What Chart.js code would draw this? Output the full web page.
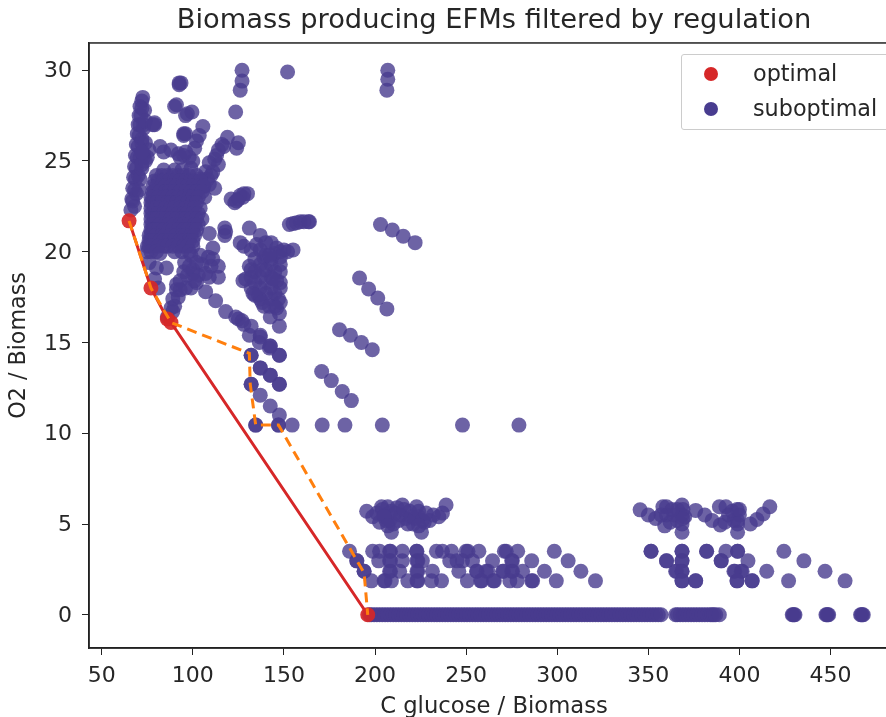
<!DOCTYPE html>
<html>
<head>
<meta charset="utf-8">
<title>Biomass producing EFMs</title>
<script src="https://cdn.jsdelivr.net/npm/chart.js@4"></script>
<style>
  html, body { margin: 0; padding: 0; background: #fff; overflow: hidden; }
  #wrap { position: relative; width: 886px; height: 717px; overflow: hidden; }
  #legend { position: absolute; left: 681px; top: 54px; width: 218px; height: 74px; border: 1px solid #ccc; border-radius: 3px; background: rgba(255,255,255,.8); font: 22.3px "DejaVu Sans"; line-height: 26px; color: #262626; }
  #legend div { position: absolute; left: 71px; white-space: nowrap; }
  #legend i { position: absolute; left: -49px; top: 7px; width: 14px; height: 14px; border-radius: 50%; }
</style>
</head>
<body>
<div id="wrap">
  <canvas id="chart" width="988" height="717"></canvas>
  <div id="legend">
    <div style="top:5px"><i style="background:#d62728"></i>optimal</div>
    <div style="top:40px"><i style="background:#483c8f"></i>suboptimal</div>
  </div>
</div>
<script>
// optimal EFMs, red frontier
const optimalPts = [[65,21.7],[77,18],[86,16.3],[88,16.1],[196,0]];
// orange dashed path
const regulatedPath = [[65,21.7],[77,18],[88,16.1],[131,14.4],[131.5,12.7],[134.5,10.45],[147,10.45],[194,2.3],[196,0]];

const leftStreak = [[66,22.3],[66.5,22.9],[67,23.5],[67.5,24.1],[68,24.7],[68.5,25.3],[69,25.9],[69.5,26.5],[70,27],[70.5,27.5],[71,28],[72,28.3],[72.5,28.5],
  [67,22.8],[68,23.4],[68.5,24],[69,24.6],[69.5,25.2],[70,25.8],[70.5,26.4],[71,27],[71.5,27.5],[72,27.9],[68,22.5],[69,23.2],[70,24.2],[71,25.2],[72,26.2],[73,27],[73.5,27.8],
  [71,24],[72,24.6],[73,25.2],[70.5,23.4],[72,26],[73,26.8],[74,27.2],[73,25.4],[74,26],[72,24.8],[76,25.6],[75,25.2],[74,25],[72,25.5],[78,27],[79,27.1]];
const topLeft = [[79,27],[82,25.8],[84,25.5],[88,25.6],[92,25.4],[93,25.2],[95,25.3],[92.5,29.3],[93.5,29.3],[92.5,29.2],[90,28],[91,28.1],[96,27.5],[97,27.6],[99.5,27.7],[95,26.5],[96,26.5],[95,26.4],
  [105.5,26.9],[103.5,26.4],[102,26.1],[101,25.7],[100,25],[99,24.6],[98,25.2],[96,25.5]];
const topMiddle = [[127,30],[127,29.4],[126,28.9],[123.5,27.7],[152,29.9],[207,30],[207,29.5],[206.5,28.9]];
const fan = [[119,26.3],[125,26],[124,25.7],[116,25.9],[114,25.6],[112,25.1],[114,24.8],[111,24.4],[107,24.4],[109,23.7],[112,23.5],[106.5,23],[117,25.8],[113,25.3],[110,24.2],[108,24],[106,23.6],[104,24],[109,24.9],
  [130,23.2],[127.5,23],[125,22.9],[121,22.9],[123,22.7],[126,23.1],[128,23.2],[124,22.8]];
const mainRows = [
  [24.5, [84,90,94]],
  [24.2, [80,83,86,89,92,95,98,102]],
  [23.9, [79,81,84,87,90,93,96,99,101,104]],
  [23.6, [78,80,83,85,88,91,94,97,100,103,106]],
  [23.3, [78,79,82,85,87,90,93,96,99,102,105]],
  [23, [77,78,81,84,86,89,92,95,98,100,103]],
  [22.7, [77,78,80,83,86,88,91,94,97,100,102]],
  [22.4, [77,79,80,82,85,88,90,93,96,99,101,104]],
  [22.1, [77,78,81,84,86,89,92,95,97,100,103]],
  [21.8, [77,79,80,83,85,88,91,94,96,99,102,105]],
  [21.5, [77,78,79,82,85,87,90,93,95,98,101,103]],
  [21.2, [77,78,79,81,84,87,89,92,95,97,100,102]],
  [20.9, [76,77,80,83,85,88,91,94,96,99,101]],
  [20.6, [76,77,79,82,84,87,90,93,95,98,100]],
  [20.3, [75,76,78,81,84,86,89,92,95,97,100]],
  [20, [75,77,80,90,94,98]]
];
const lowerBlock = [[82,19.9],[80,19.1],[85.5,19.1],[79,18.5],[81,18],[111,20.2],[108.5,19.7],[105,19.3],[95.5,19.4],[99,19.8],[103,18.7],[114,19.2],[114,18.6],[102,18.3],[99,18],
  [93,18.4],[91,17.9],[89,17.4],[88,16.9],[89,16.7],[86,16.4],[96,18],[100,19],[110,19.2],[76,19.4],[109,21],[117.5,21.3],[117.5,20.9],[118,21.1],[97,18.7],[95,18.9],[102,19.4],[104,19.8],
  [107,18.8],[109,18.6],[111,19.6],[100,18.8],[98,19.2],[92,17.5],[90,17],[93,17.9],[91,18.2],[101,18.4]];
const descending = [[107,17.8],[112.5,17.3],[118,16.7],[123.5,16.4],[127,16.2],[132,15.9],[131,15.4],[137,15.3],[136.5,15],[142,14.7],[132,14.3],[137,13.6],[142.5,13.2],[147.5,12.7],
  [132,12.7],[137,12.1],[142.5,11.5],[147.5,11],[147.5,14.3],[142.5,14.8],[137,15.4],[125,16.3],[128,16],[132,14.3],[132,12.7],[147.5,14.3],[147.5,12.7],[142.5,14.8],[142.5,13.2],[137,13.6]];
const rowTen = [[134.5,10.45],[134.5,10.45],[147,10.45],[147,10.45],[154.5,10.45],[171,10.45],[183.5,10.45],[204,10.45],[248,10.45],[279,10.45]];
const diagonals = [[180.5,15.7],[186.5,15.4],[192.5,15],[198.5,14.6],[170.7,13.4],[176,12.9],[182,12.3],[187,11.8],[191.5,18.55],[196.5,17.95],[201.5,17.45],[206.5,16.85],
  [203,21.5],[209.5,21.2],[215.5,20.85],[222,20.5],[153,21.5],[155,21.55],[157,21.6],[159,21.65],[161,21.65],[163.5,21.65],[164,21.65]];
const tallBlock = [[126,20.5],[131,21.3],[137,20.9],[143,20.5],[155,20.1],[152,20],[148,20],[132,20.1],[137,20.1],[143,19.6],[148,19.3],[132,19],[137,19.3],[143,19.3],[148,18.9],
  [127.5,18.4],[132,18.6],[137,18.6],[143,18.6],[148,18.3],[132,18],[137,18],[143,18],[148,18],[137,17.4],[143,17.4],[148,17.2],[142.5,16.4],[147.5,16.6],[147.5,15.9],[145,17],[139,17],[145,19.9],[140,19.8],
  [128,20.3],[135,20.4],[140,20.5],[146,20.2],[150,20.1],[134,19.6],[139,19.7],[148,19.7],[131,19.2],[134,18.9],[140,19],[145,18.9],[129,18.5],[134,18.3],[140,18.3],[146,18.4],[133,17.7],[136,17.6],[140,17.7],
  [145,17.7],[147,17.4],[134,17.6],[138,17.2],[142,17],[146,16.9],[144,18.5],[138,19],[142,19.8]];
const vBandLeft = [[195.4,5.7],[198.7,5.4],[203.6,5.95],[207,5.95],[202.5,5.1],[209,4.55],[215,6.05],[222.8,5.95],[225.5,4.55],[201,5.6],[205,5.5],[208,5.2],[211,5.6],[213,5.2],[217,5.3],[219,5.7],[221,5],[224,5.4],
  [227,5.1],[230,5.2],[232,5.5],[235,5.4],[237,5.6],[239,6.05],[204,5.8],[206,5.2],[209,5.7],[210,5],[212,5.9],[214,5.5],[216,5.8],[218,5],[220,5.4],[222,5.3],[224,5.7],[226,5.2],[228,5.6],[205,5.4],[207,4.9],[224,4.9]];
const vBandRight = [[345.5,5.78],[350,5.5],[354,5.3],[359,4.9],[360,5.95],[358,5.95],[368.5,6.05],[368.5,4.55],[368.5,5.5],[368.5,5],[364,5.5],[360,5.5],[362,5.1],[376,5.75],[381,5.5],[385,5.2],[389.5,4.95],[389,5.95],[392.6,5.95],
  [398.7,5.8],[399,4.55],[399,5.2],[394,5.5],[392,5.1],[406,5],[409.6,5.25],[413,5.55],[416.7,5.95],[370,5.4],[400,5.5],[366,5.8],[366,5.2],[369,5.8],[369,5.3],[396,5.7],[397,5.2],[399,5],[400,5.8],[363,5.8],[357,5.5]];
const rowThreeHalf = [186,198.7,202.5,208,208.5,215,222.8,223,233.7,237,242,250,251,257,271,272,278.3,298.4,351.5,351.5,368.5,368.5,382,382,392.6,399,399,424.4];
const rowThree = [190,190,202,208,208.5,215,223,223.5,226,241,245,248,253.5,264.5,275.4,275,286,306,360,360,368.5,368.5,390,390,404.7,435.4];
const rowTwoHalf = [194,194,208,208.5,213.5,223,223.5,231.5,246,255.7,256,261,262,270,270.5,275,275.5,281,293,313,365,365.5,368.5,368.5,397,397.5,401,401.5,415,447];
const rowTwo = [198,205,205.5,209,218,223,223.5,231,236.5,250.7,258,258.5,265,265.5,274,278,286,286.5,299.5,321,368.5,368.5,376,376,398.7,398.7,407,407,427,458];
const rowZero = [197,198,199.5,201,202.5,204,205.5,207,208.5,210,211.5,213,214.5,216,217.5,219,220.5,222,223.5,225,226.5,228,229.5,231,232.5,234,235.5,237,238.5,240,241.5,243,244.5,246,247.5,249,250.5,252,253.5,255,256.5,258,259.5,261,262.5,264,265.5,267,268.5,270,271.5,273,274.5,276,277.5,279,280.5,282,283.5,285,286.5,288,289.5,291,292.5,294,295.5,297,298.5,300,301.5,303,304.5,306,307.5,309,310.5,312,313.5,315,316.5,318,319.5,321,322.5,324,325.5,327,328.5,330,331.5,333,334.5,336,337.5,339,340.5,342,343.5,345,346.5,348,349.5,351,352.5,354,355.5,357,
  365,366,367.5,369,370.5,372,373.5,375,376.5,378,379.5,381,382.5,384,385,386,387,389,429,429.5,430,430.5,447.5,448,448.5,449,466.5,467,467.5,468];

function pts(list) { return list.map(p => ({x: p[0], y: p[1]})); }
function row(xs, y) { return xs.map(x => ({x: x, y: y})); }

const suboptimal = [].concat(
  pts(leftStreak), pts(topLeft), pts(topMiddle), pts(fan), ...mainRows.map(r => row(r[1], r[0])), pts(lowerBlock),
  pts(descending), pts(rowTen), pts(diagonals), pts(tallBlock), pts(vBandLeft), pts(vBandRight),
  row(rowThreeHalf, 3.5), row(rowThree, 2.97), row(rowTwoHalf, 2.4), row(rowTwo, 1.87), row(rowZero, 0)
);

const font = {family: '"DejaVu Sans"', size: 22};
const textColor = '#262626';

// top and right spines
const frame = {
  id: 'frame',
  afterDraw(c) {
    const a = c.chartArea, x = c.ctx;
    x.save();
    x.strokeStyle = '#222';
    x.lineWidth = 1.5;
    x.strokeRect(a.left, a.top, a.right - a.left, a.bottom - a.top);
    x.restore();
  }
};

new Chart(document.getElementById('chart'), {
  type: 'scatter',
  data: {
    datasets: [
      {label: 'path', data: pts(regulatedPath), showLine: true, borderColor: '#ff7f0e', borderWidth: 3, borderDash: [10, 6], pointRadius: 0, order: 1},
      {label: 'optimal', data: pts(optimalPts), showLine: true, borderColor: '#d62728', borderWidth: 3, backgroundColor: 'rgba(214,39,40,.92)', pointRadius: 7.5, pointBorderWidth: 0, order: 2},
      {label: 'suboptimal', data: suboptimal, backgroundColor: 'rgba(72,60,143,.8)', pointRadius: 7.5, pointBorderWidth: 0, order: 3}
    ]
  },
  options: {
    responsive: false,
    animation: false,
    plugins: {
      legend: {display: false},
      tooltip: {enabled: false},
      title: {display: true, text: 'Biomass producing EFMs filtered by regulation', color: textColor, font: {family: '"DejaVu Sans"', size: 27.3, weight: 'normal'}, padding: {top: 5, bottom: 5.2}}
    },
    scales: {
      x: {
        min: 43, max: 487.6,
        // axes end at 899, the rest of the canvas is cropped by the window
        afterFit(s) { s.height = 69; s.paddingLeft = 0; s.paddingRight = 89; },
        afterBuildTicks(s) { s.ticks = [50,100,150,200,250,300,350,400,450].map(v => ({value: v})); },
        border: {color: '#222', width: 1.5},
        grid: {drawOnChartArea: false, color: '#222', tickLength: 7},
        ticks: {color: textColor, font: font, padding: 8, maxRotation: 0},
        title: {display: true, text: 'C glucose / Biomass', color: textColor, font: {family: '"DejaVu Sans"', size: 22.7}, padding: {bottom: -4}}
      },
      y: {
        min: -1.83, max: 31.5,
        afterFit(s) { s.width = 89; },
        afterBuildTicks(s) { s.ticks = [0,5,10,15,20,25,30].map(v => ({value: v})); },
        border: {color: '#222', width: 1.5},
        grid: {drawOnChartArea: false, color: '#222', tickLength: 7},
        ticks: {color: textColor, font: font, padding: 10, labelOffset: 1.5},
        title: {display: true, text: 'O2 / Biomass', color: textColor, font: {family: '"DejaVu Sans"', size: 22.2}, padding: {top: 6, bottom: 0}}
      }
    }
  },
  plugins: [frame]
});
</script>
</body>
</html>
